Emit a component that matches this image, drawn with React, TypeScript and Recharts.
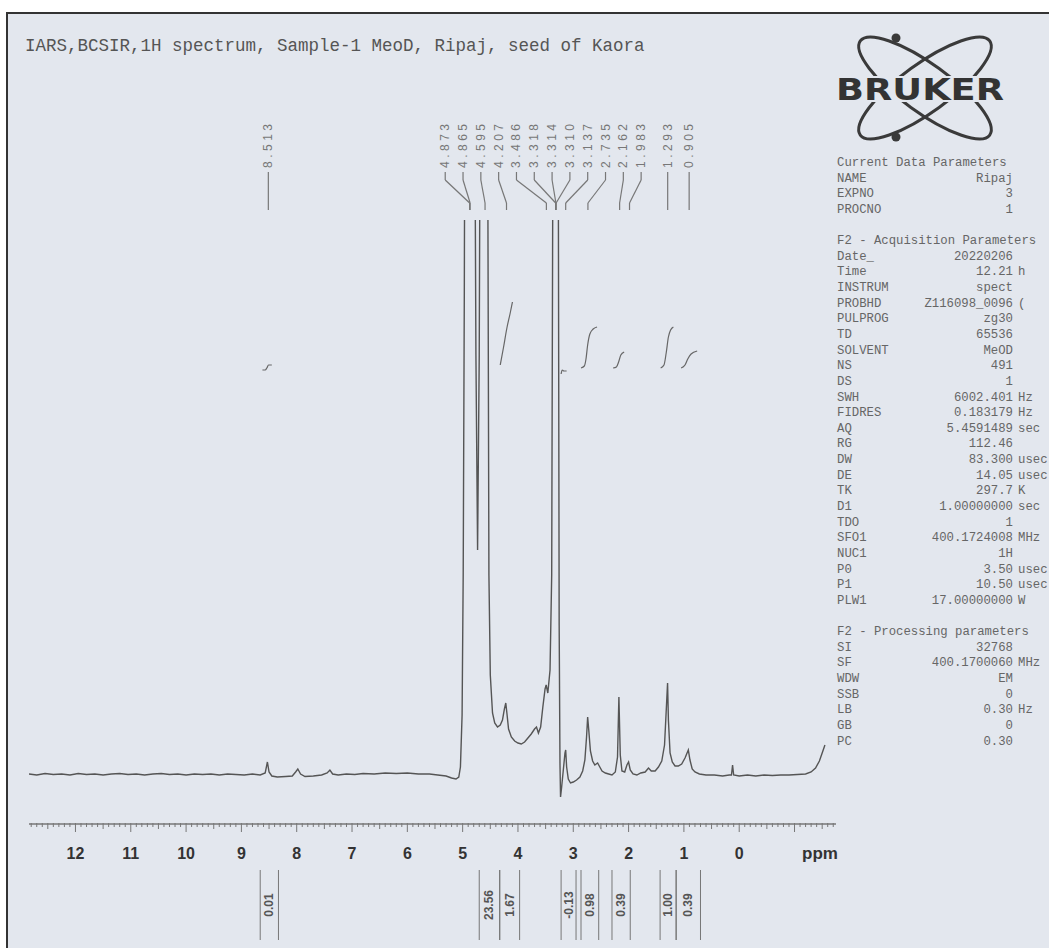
import React from "react";
import { LineChart, Line, XAxis, YAxis, ReferenceLine, ReferenceDot } from "recharts";

// 1H trace: [ppm, intensity], baseline = 0, plot top ~ 555
const spectrum: [number, number][] = [
  [12.84, 1], [12.7, 0], [12.55, 1.5], [12.4, 0.5], [12.25, 1], [12.1, 0], [11.95, 1.5],
  [11.8, 0.5], [11.65, 1], [11.5, 0], [11.35, 1], [11.2, 1.5], [11.05, 0.5], [10.9, 1],
  [10.75, 0], [10.6, 1], [10.45, 1.5], [10.3, 0.5], [10.15, 1], [10.0, 0], [9.85, 1],
  [9.7, 0.5], [9.55, 1], [9.4, 0], [9.25, 1], [9.1, 0.5], [8.95, 0], [8.8, 1], [8.66, 0],
  [8.57, 2], [8.53, 13], [8.5, 3], [8.45, -1], [8.35, -2], [8.2, -1.5], [8.08, -1],
  [8.02, 3], [7.98, 6], [7.93, 1], [7.85, -1.5], [7.7, -1], [7.55, 0], [7.45, 2], [7.4, 5],
  [7.35, 1], [7.25, 0], [7.1, 1], [6.95, 0.5], [6.8, 1.5], [6.6, 1], [6.4, 2], [6.2, 1.5],
  [6.0, 2], [5.8, 1], [5.6, 1], [5.45, 0], [5.3, -1], [5.2, -3], [5.12, -4], [5.07, -2],
  [5.04, 8], [5.01, 60], [4.99, 200], [4.97, 480], [4.94, 1100], [4.9, 1800], [4.873, 2300],
  [4.865, 2250], [4.83, 1600], [4.79, 800], [4.76, 420], [4.73, 225], [4.7, 420], [4.67, 900],
  [4.63, 1800], [4.595, 2600], [4.57, 1500], [4.545, 600], [4.525, 200], [4.5, 100],
  [4.46, 62], [4.42, 52], [4.37, 48], [4.32, 50], [4.28, 55], [4.245, 66], [4.22, 72],
  [4.2, 62], [4.17, 46], [4.12, 38], [4.06, 34], [4.0, 32], [3.94, 31], [3.88, 33],
  [3.82, 37], [3.76, 41], [3.7, 46], [3.665, 48], [3.63, 42], [3.59, 48], [3.55, 68],
  [3.51, 86], [3.49, 90], [3.46, 82], [3.42, 105], [3.39, 200], [3.37, 600], [3.35, 1500],
  [3.318, 3000], [3.314, 3100], [3.31, 3000], [3.29, 1500], [3.27, 600], [3.255, 150],
  [3.24, 10], [3.23, -22], [3.21, -12], [3.18, 5], [3.15, 22], [3.137, 25], [3.12, 8],
  [3.09, -4], [3.05, -8], [3.0, -7], [2.94, -5], [2.88, -2], [2.83, 4], [2.79, 15],
  [2.76, 38], [2.74, 58], [2.72, 45], [2.69, 24], [2.65, 14], [2.61, 10], [2.56, 12],
  [2.53, 9], [2.48, 4], [2.42, 2], [2.36, 1], [2.3, 0], [2.24, 3], [2.2, 18], [2.175, 78],
  [2.15, 20], [2.12, 4], [2.07, 3], [2.03, 10], [2.0, 13], [1.97, 5], [1.92, 1], [1.85, 0],
  [1.78, 2], [1.7, 3], [1.64, 7], [1.59, 4], [1.52, 4], [1.46, 8], [1.4, 14], [1.35, 30],
  [1.31, 75], [1.295, 92], [1.28, 55], [1.25, 22], [1.21, 13], [1.16, 9], [1.1, 9],
  [1.04, 11], [0.98, 17], [0.95, 21], [0.92, 25], [0.89, 15], [0.85, 6], [0.8, 3],
  [0.72, 1], [0.6, 0], [0.45, 0], [0.3, -1], [0.18, 0], [0.14, 0], [0.12, 10], [0.1, 0],
  [0.0, -1], [-0.15, 0], [-0.3, -1], [-0.45, 0], [-0.6, -0.5], [-0.75, 0], [-0.9, 0],
  [-1.05, 0.5], [-1.2, 1], [-1.3, 3], [-1.38, 7], [-1.45, 14], [-1.5, 22], [-1.55, 30],
];

// integral curves drawn above the peaks
const integralCurves: [number, number][][] = [
  [[8.62, 405], [8.57, 405], [8.54, 407], [8.51, 410], [8.45, 410]],
  [[4.32, 410], [4.26, 428], [4.2, 447], [4.14, 462], [4.1, 473]],
  [[3.22, 401], [3.2, 405], [3.17, 404], [3.12, 404]],
  [[2.86, 407], [2.8, 409], [2.77, 416], [2.74, 430], [2.7, 441], [2.64, 446], [2.57, 448]],
  [[2.28, 407], [2.22, 408], [2.18, 413], [2.14, 420], [2.08, 423]],
  [[1.42, 407], [1.36, 410], [1.32, 422], [1.28, 438], [1.24, 445], [1.19, 448]],
  [[1.05, 407], [0.98, 410], [0.93, 416], [0.87, 421], [0.76, 424]],
];

const peakShifts = [8.513, 4.873, 4.865, 4.595, 4.207, 3.486, 3.318, 3.314, 3.31, 3.137, 2.735, 2.162, 1.983, 1.293, 0.905];

const integralFrom = [8.66, 4.7, 4.33, 3.22, 2.86, 2.3, 1.43, 1.14];
const integralTo = [8.33, 4.33, 3.97, 2.95, 2.54, 1.97, 1.14, 0.7];
const integralValues = ["0.01", "23.56", "1.67", "-0.13", "0.98", "0.39", "1.00", "0.39"];

const currentParams = [["NAME", "Ripaj", ""], ["EXPNO", "3", ""], ["PROCNO", "1", ""]];
const acqParams = [
  ["Date_", "20220206", ""], ["Time", "12.21", "h"], ["INSTRUM", "spect", ""],
  ["PROBHD", "Z116098_0096", "("], ["PULPROG", "zg30", ""], ["TD", "65536", ""],
  ["SOLVENT", "MeOD", ""], ["NS", "491", ""], ["DS", "1", ""], ["SWH", "6002.401", "Hz"],
  ["FIDRES", "0.183179", "Hz"], ["AQ", "5.4591489", "sec"], ["RG", "112.46", ""],
  ["DW", "83.300", "usec"], ["DE", "14.05", "usec"], ["TK", "297.7", "K"],
  ["D1", "1.00000000", "sec"], ["TDO", "1", ""], ["SFO1", "400.1724008", "MHz"],
  ["NUC1", "1H", ""], ["P0", "3.50", "usec"], ["P1", "10.50", "usec"], ["PLW1", "17.00000000", "W"],
];
const procParams = [
  ["SI", "32768", ""], ["SF", "400.1700060", "MHz"], ["WDW", "EM", ""], ["SSB", "0", ""],
  ["LB", "0.30", "Hz"], ["GB", "0", ""], ["PC", "0.30", ""],
];

const X_MIN = -1.75;
const X_MAX = 12.84;
const Y_MIN = -49;
const Y_MAX = 555;

const rulerTicks: number[] = [];
for (let i = -17; i <= 128; i++) rulerTicks.push(i / 10);

const toRows = (pairs: [number, number][]) => pairs.map(([ppm, v]) => ({ ppm, v }));

// crowded labels are spread evenly, the rest sit over their peak
const labelPos = (i: number) => (i >= 1 && i <= 12 ? 5.315 - (i - 1) * 0.322 : peakShifts[i]);

const RulerTick = (props: any) => {
  const { x, y, payload } = props;
  const v = payload.value;
  const whole = Math.abs(v - Math.round(v)) < 1e-6;
  const half = Math.abs(v * 2 - Math.round(v * 2)) < 1e-6;
  const len = whole ? 8 : half ? 5 : 3;
  return (
    <g>
      <line x1={x} x2={x} y1={y - 1} y2={y + len} stroke="#777" strokeWidth={1} />
      {whole && v >= 0 && (
        <text x={x} y={y + 35} textAnchor="middle" fontFamily="Liberation Sans, Arial, sans-serif"
          fontWeight="bold" fontSize={16} fill="#333">
          {Math.round(v)}
        </text>
      )}
    </g>
  );
};

const mono = "Liberation Mono, DejaVu Sans Mono, monospace";

function ParamBlock({ title, rows, y0 }: { title: string; rows: string[][]; y0: number }) {
  const step = 15.65;
  return (
    <g fontFamily={mono} fontSize={12.3} fill="#666">
      <text x={837} y={y0} dominantBaseline="central">{title}</text>
      {rows.map((r, i) => (
        <g key={r[0]}>
          <text x={837} y={y0 + (i + 1) * step} dominantBaseline="central">{r[0]}</text>
          <text x={1013} y={y0 + (i + 1) * step} dominantBaseline="central" textAnchor="end">{r[1]}</text>
          {r[2] && <text x={1018} y={y0 + (i + 1) * step} dominantBaseline="central">{r[2]}</text>}
        </g>
      ))}
    </g>
  );
}

export default function App() {
  return (
    <div style={{ position: "absolute", left: 0, top: 0, width: 1049, height: 948, background: "#fff", overflow: "hidden" }}>
      <div style={{ position: "absolute", left: 6, top: 12, width: 1060, height: 960, background: "#e3e7ee",
        borderLeft: "2px solid #333", borderTop: "2px solid #333" }} />
      <svg width={1049} height={948} style={{ position: "absolute", left: 0, top: 0 }}>
        <text x={25} y={51} fontFamily={mono} fontSize={17.5} fill="#555">
          IARS,BCSIR,1H spectrum, Sample-1 MeoD, Ripaj, seed of Kaora
        </text>
        {/* Bruker logo */}
        <g fill="none" stroke="#3a3a3a" strokeWidth={3}>
          <ellipse cx={925} cy={88} rx={80} ry={24} transform="rotate(36 925 88)" />
          <ellipse cx={925} cy={88} rx={80} ry={24} transform="rotate(-36 925 88)" />
        </g>
        <circle cx={896} cy={38} r={4.5} fill="#3a3a3a" />
        <circle cx={896} cy={137} r={4.5} fill="#3a3a3a" />
        <rect x={834} y={76} width={172} height={26} fill="#e3e7ee" />
        <text x={836} y={100} fontFamily="DejaVu Sans, sans-serif" fontWeight="bold" fontSize={30}
          fill="#333" textLength={168} lengthAdjust="spacingAndGlyphs">BRUKER</text>
        <ParamBlock title="Current Data Parameters" rows={currentParams} y0={163} />
        <ParamBlock title="F2 - Acquisition Parameters" rows={acqParams} y0={241} />
        <ParamBlock title="F2 - Processing parameters" rows={procParams} y0={632} />
        <text x={820} y={859} textAnchor="middle" fontFamily="Liberation Sans, Arial, sans-serif"
          fontWeight="bold" fontSize={17} fill="#333">ppm</text>
      </svg>
      <div style={{ position: "absolute", left: 0, top: 0 }}>
        <LineChart width={1049} height={948} margin={{ top: 220, right: 213, bottom: 94, left: 29 }}>
          <XAxis type="number" dataKey="ppm" domain={[X_MIN, X_MAX]} reversed allowDataOverflow
            ticks={rulerTicks} interval={0} tickSize={0} tickMargin={0} height={30}
            axisLine={{ stroke: "#777", strokeWidth: 1.5 }} tickLine={false} tick={<RulerTick />} />
          <YAxis type="number" domain={[Y_MIN, Y_MAX]} allowDataOverflow hide />
          <Line data={toRows(spectrum)} dataKey="v" type="linear" stroke="#555" strokeWidth={1.4}
            dot={false} isAnimationActive={false} />
          {integralCurves.map((c, i) => (
            <Line key={`int-${i}`} data={toRows(c)} dataKey="v" type="monotone" stroke="#666"
              strokeWidth={1.2} dot={false} isAnimationActive={false} />
          ))}
          {peakShifts.map((p, i) => {
            const lx = labelPos(i);
            return (
              <React.Fragment key={`pk-${i}`}>
                <ReferenceLine ifOverflow="visible" stroke="#777" strokeWidth={1.2}
                  segment={[{ x: lx, y: 603 }, { x: lx, y: 595 }]} />
                <ReferenceLine ifOverflow="visible" stroke="#777" strokeWidth={1.2}
                  segment={[{ x: lx, y: 595 }, { x: p, y: 572 }]} />
                <ReferenceLine ifOverflow="visible" stroke="#777" strokeWidth={1.2}
                  segment={[{ x: p, y: 572 }, { x: p, y: 565 }]} />
                <ReferenceDot x={lx} y={607} r={0} ifOverflow="visible"
                  shape={(s: any) => (
                    <text x={s.cx} y={s.cy} transform={`rotate(-90 ${s.cx} ${s.cy})`} textAnchor="start"
                      dominantBaseline="central" fontFamily="Liberation Sans, Arial, sans-serif"
                      fontSize={12} letterSpacing={3.5} fill="#777">
                      {p.toFixed(3)}
                    </text>
                  )} />
              </React.Fragment>
            );
          })}
          {integralValues.map((val, i) => (
            <React.Fragment key={`ig-${i}`}>
              <ReferenceLine ifOverflow="visible" stroke="#777" strokeWidth={1}
                segment={[{ x: integralFrom[i], y: -95 }, { x: integralFrom[i], y: -165 }]} />
              <ReferenceLine ifOverflow="visible" stroke="#777" strokeWidth={1}
                segment={[{ x: integralTo[i], y: -95 }, { x: integralTo[i], y: -165 }]} />
              <ReferenceDot x={(integralFrom[i] + integralTo[i]) / 2} y={-130} r={0} ifOverflow="visible"
                shape={(s: any) => (
                  <text x={s.cx} y={s.cy} transform={`rotate(-90 ${s.cx} ${s.cy})`} textAnchor="middle"
                    dominantBaseline="central" fontFamily="Liberation Sans, Arial, sans-serif"
                    fontWeight="bold" fontSize={12} fill="#555">
                    {val}
                  </text>
                )} />
            </React.Fragment>
          ))}
        </LineChart>
      </div>
    </div>
  );
}
